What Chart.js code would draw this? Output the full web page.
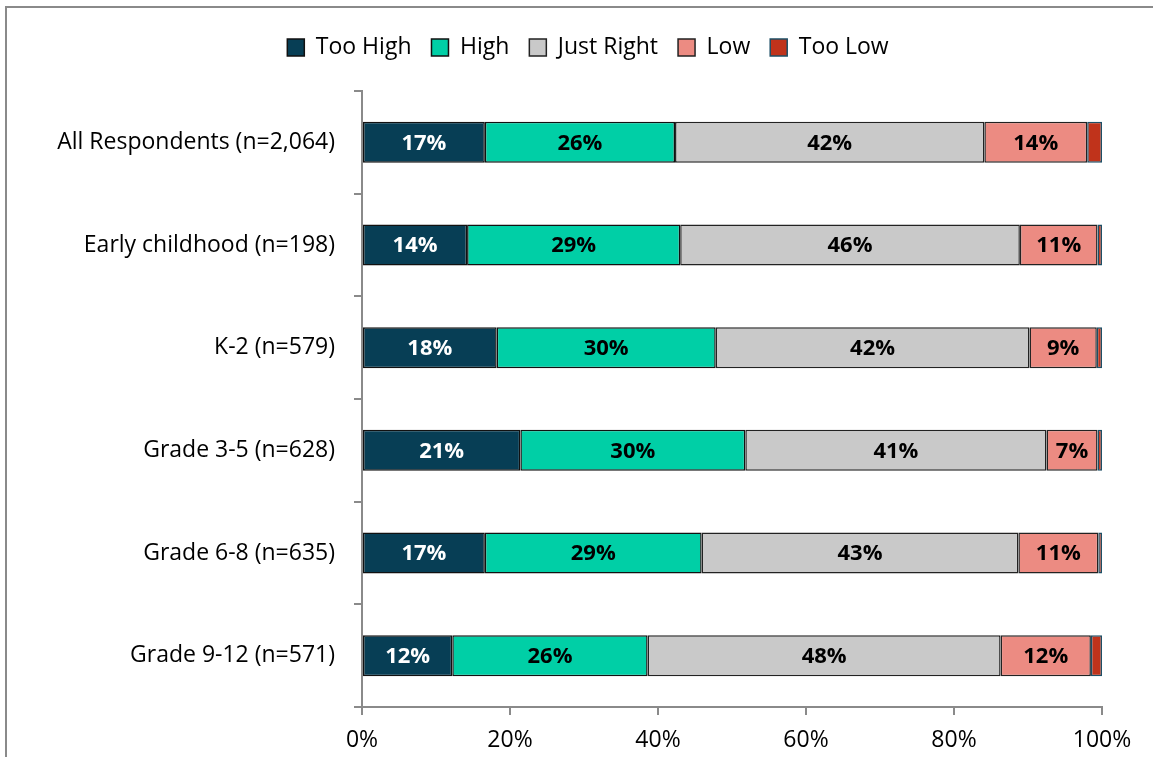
<!DOCTYPE html>
<html><head><meta charset="utf-8">
<script src="https://cdn.jsdelivr.net/npm/chart.js@4"></script>
<style>html,body{margin:0;padding:0;background:#fff}#wrap{position:relative;width:1153px;height:757px}</style>
</head><body><div id="wrap"><canvas id="c" width="1153" height="757"></canvas></div>
<script>
const categories = ['All Respondents (n=2,064)', 'Early childhood (n=198)', 'K-2 (n=579)', 'Grade 3-5 (n=628)', 'Grade 6-8 (n=635)', 'Grade 9-12 (n=571)'];
const seriesNames = ['Too High', 'High', 'Just Right', 'Low', 'Too Low'];
const tooHigh = [16.6, 14.2, 18.2, 21.4, 16.6, 12.2];
const high = [25.7, 28.8, 29.6, 30.4, 29.3, 26.4];
const justRight = [41.8, 45.9, 42.4, 40.7, 42.8, 47.7];
const low = [13.9, 10.5, 9.1, 6.9, 10.8, 12.2];
const tooLow = [2.0, 0.6, 0.7, 0.6, 0.5, 1.5];
const xTicks = [0, 20, 40, 60, 80, 100];

const fills = ['#073E55', '#00CFA6', '#C9C9C9', '#EC8B82', '#C0331B'];
const borders = ['#111', '#111', '#222', '#222', '#1D4F66'];
const labelColors = ['#fff', '#000', '#000', '#000', null];
const FONT = '"Open Sans", sans-serif';

const frame = {
  id: 'frame',
  beforeDraw(chart) {
    const ctx = chart.ctx;
    ctx.save();
    ctx.strokeStyle = '#8a8a8a';
    ctx.lineWidth = 2;
    ctx.beginPath();
    ctx.moveTo(6, 757); ctx.lineTo(6, 7); ctx.lineTo(1153, 7);
    ctx.stroke();
    ctx.restore();
  }
};
const legendSize = {
  id: 'legendSize',
  beforeUpdate(chart) {
    const lg = chart.legend;
    if (lg && !lg._patched) {
      const orig = lg.fit;
      lg.fit = function () { orig.call(this); this.height = 75; };
      lg._patched = true;
    }
  },
  afterLayout(chart) {
    const lg = chart.legend;
    if (lg) { lg.left += 37; lg.right += 37; }
  }
};
const barLabels = {
  id: 'barLabels',
  afterDatasetsDraw(chart) {
    const ctx = chart.ctx;
    ctx.save();
    ctx.font = 'bold 22px ' + FONT;
    ctx.textAlign = 'center';
    ctx.textBaseline = 'middle';
    chart.data.datasets.forEach((ds, di) => {
      if (!labelColors[di]) return;
      chart.getDatasetMeta(di).data.forEach((el, i) => {
        const v = ds.data[i];
        const cx = (el.x + el.base) / 2;
        ctx.fillStyle = labelColors[di];
        ctx.fillText(Math.round(v) + '%', cx, el.y + 1);
      });
    });
    ctx.restore();
  }
};

const seriesData = [tooHigh, high, justRight, low, tooLow];
new Chart(document.getElementById('c'), {
  type: 'bar',
  data: {
    labels: categories,
    datasets: seriesData.map((d, i) => ({
      label: seriesNames[i],
      data: d,
      backgroundColor: fills[i],
      borderColor: borders[i],
      borderWidth: 1.5,
      borderSkipped: false,
      categoryPercentage: 1,
      barPercentage: 0.4
    }))
  },
  options: {
    indexAxis: 'y',
    responsive: false,
    animation: false,
    devicePixelRatio: 1,
    layout: { padding: { top: 16, left: 0, right: 51, bottom: 6 } },
    plugins: {
      tooltip: { enabled: false },
      legend: {
        position: 'top',
        labels: {
          color: '#000',
          font: { family: FONT, size: 23 },
          boxWidth: 17, boxHeight: 17, padding: 20
        }
      }
    },
    scales: {
      x: {
        stacked: true, min: 0, max: 100,
        afterBuildTicks(s) { s.ticks = xTicks.map(v => ({ value: v })); },
        afterFit(s) { s.height = 44; },
        grid: { drawOnChartArea: false, drawTicks: true, tickLength: 8, color: '#8a8a8a', lineWidth: 2 },
        border: { color: '#8a8a8a', width: 2 },
        ticks: { color: '#000', padding: 12, font: { family: FONT, size: 23 }, callback: v => v + '%' }
      },
      y: {
        stacked: true,
        afterFit(s) { s.width = 362; },
        grid: { drawOnChartArea: false, drawTicks: true, tickLength: 8, color: '#8a8a8a', lineWidth: 2, offset: true },
        border: { color: '#8a8a8a', width: 2 },
        ticks: { color: '#000', padding: 19, font: { family: FONT, size: 23 } }
      }
    }
  },
  plugins: [frame, legendSize, barLabels]
});
</script>
</body></html>
